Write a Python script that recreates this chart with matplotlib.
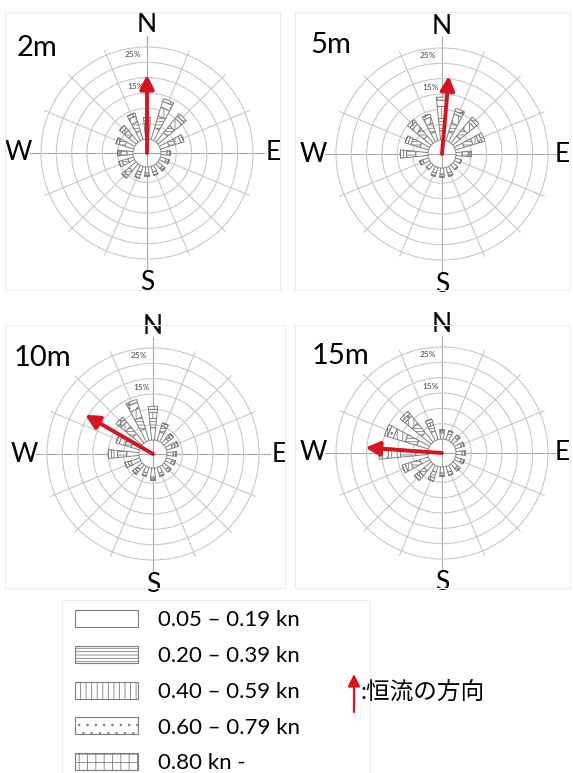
import numpy as np
import matplotlib.pyplot as plt
from matplotlib.patches import Patch, Rectangle

plt.rcParams['font.family'] = ['Lato', 'Noto Sans CJK JP', 'DejaVu Sans']
plt.rcParams['hatch.linewidth'] = 0.6

W, H = 573, 773

# 16 方位 (N から時計回り)
directions = ['N', 'NNE', 'NE', 'ENE', 'E', 'ESE', 'SE', 'SSE',
              'S', 'SSW', 'SW', 'WSW', 'W', 'WNW', 'NW', 'NNW']
speed_classes = ['0.05 – 0.19 kn', '0.20 – 0.39 kn', '0.40 – 0.59 kn',
                 '0.60 – 0.79 kn', '0.80 kn -']
depths = ['2m', '5m', '10m', '15m']

# 出現頻度 (%)  行 = 流速階級, 列 = 方位
freq_2m = [[3, 4, 4, 3, 2, 2, 2, 2, 2, 2, 3, 2, 2, 3, 3, 3],
           [2, 4, 3, 2, 1, 1, 1, 1, 1, 1, 2, 2, 2, 2, 2, 3],
           [1, 3, 3, 2, 0, 0, 0, 0, 0, 1, 1, 1, 1, 1, 1, 2],
           [1, 2, 1, 1, 0, 0, 0, 0, 0, 0, 0, 0, 0, 0, 1, 1],
           [0, 1, 1, 0, 0, 0, 0, 0, 0, 0, 0, 0, 0, 0, 0, 0]]
freq_5m = [[3, 3, 3, 3, 2, 2, 2, 2, 2, 2, 2, 2, 4, 3, 3, 3],
           [4, 3, 3, 3, 2, 0, 0, 1, 1, 1, 0, 1, 3, 3, 3, 3],
           [4, 3, 3, 2, 1, 0, 0, 0, 0, 0, 0, 0, 1, 1, 2, 2],
           [2, 1, 1, 1, 0, 0, 0, 0, 0, 0, 0, 0, 1, 1, 1, 1],
           [1, 1, 1, 1, 0, 0, 0, 0, 0, 0, 0, 0, 0, 0, 1, 0]]
freq_10m = [[4, 3, 2, 2, 2, 2, 2, 2, 3, 2, 2, 3, 4, 3, 4, 4],
            [3, 2, 1, 1, 1, 1, 1, 1, 1, 1, 1, 1, 3, 2, 3, 4],
            [2, 1, 1, 1, 0, 0, 0, 0, 0, 0, 1, 1, 2, 2, 2, 3],
            [1, 0, 0, 0, 0, 0, 0, 0, 0, 0, 0, 0, 1, 1, 1, 2],
            [1, 0, 0, 0, 0, 0, 0, 0, 0, 0, 0, 0, 0, 0, 1, 1]]
freq_15m = [[2, 2, 2, 2, 2, 2, 2, 2, 2, 2, 3, 3, 4, 4, 4, 3],
            [1, 1, 1, 1, 1, 1, 1, 1, 1, 2, 2, 3, 5, 4, 4, 2],
            [0, 0, 0, 0, 0, 0, 0, 0, 0, 1, 1, 2, 4, 4, 3, 1],
            [0, 0, 0, 0, 0, 0, 0, 0, 0, 0, 1, 1, 2, 2, 1, 1],
            [0, 0, 0, 0, 0, 0, 0, 0, 0, 0, 0, 0, 1, 1, 1, 0]]

# 恒流の方向 (度, N=0 時計回り) と長さ (%)
flow_dir = [0, 5, 300, 274]
flow_len = [21, 21, 21, 20.5]

# panel centres in pixels
centers = [(147, 153), (442, 154), (153, 454), (442, 453)]
label_pos = [(17, 48), (310, 45), (14, 358), (312, 356)]
east_dist = [126, 120, 126, 120]

R = 106          # outer ring radius in px
calm = 14        # calm circle radius in px
rmax = 30
rorig = -calm * rmax / (R - calm)
px = (R - calm) / rmax

hatches = ['', '-----', '|||', '..', '++']
edge = '#7e7e7e'
gridc = '#c8c8c8'
red = '#d8121e'

theta = np.radians(np.arange(16) * 22.5)

fig = plt.figure(figsize=(W / 100, H / 100), dpi=100)

# faint panel frames
for (x0, y0, x1, y1) in [(5, 12, 280, 290), (295, 12, 570, 290),
                         (5, 325, 285, 588), (295, 325, 570, 588),
                         (62, 600, 370, 773)]:
    fig.add_artist(Rectangle((x0 / W, 1 - y1 / H), (x1 - x0) / W, (y1 - y0) / H,
                             transform=fig.transFigure, fill=False,
                             edgecolor='#ededed', lw=0.8))

for i, freq in enumerate([freq_2m, freq_5m, freq_10m, freq_15m]):
    cx, cy = centers[i]
    ax = fig.add_axes([(cx - R) / W, (H - cy - R) / H, 2 * R / W, 2 * R / H],
                      projection='polar')
    ax.set_theta_zero_location('N')
    ax.set_theta_direction(-1)
    ax.set_rlim(0, rmax)
    ax.set_rorigin(rorig)
    ax.set_yticks([5, 10, 15, 20, 25])
    ax.set_yticklabels([])
    ax.set_xticks([])
    ax.yaxis.grid(True, color=gridc, lw=0.8)
    for sp in ax.spines.values():
        sp.set_color(gridc)
        sp.set_linewidth(0.8)
    ax.spines['inner'].set_color('#9a9a9a')

    # spokes
    for k, th in enumerate(theta):
        if k % 4 == 0:
            ax.plot([th, th], [rorig, 33.5], color='#a8a8a8', lw=0.8,
                    clip_on=False, zorder=1)
        else:
            ax.plot([th, th], [0, 31.5], color=gridc, lw=0.8,
                    clip_on=False, zorder=1)

    # stacked petals
    bottom = np.zeros(16)
    for c in range(5):
        vals = np.array(freq[c], dtype=float)
        ax.bar(theta, vals, width=0.2, bottom=bottom, facecolor='white',
               edgecolor=edge, hatch=hatches[c], lw=0.7, zorder=3)
        bottom += vals

    ax.text(np.radians(-10), 17.5, '15%', fontsize=6, color='#444',
            ha='center', va='center', zorder=5)
    ax.text(np.radians(-8), 28, '25%', fontsize=6, color='#444',
            ha='center', va='center', zorder=5)

    # cardinal letters
    for lab, ang, d in zip(['N', 'E', 'S', 'W'], [0, 90, 180, 270],
                           [128, east_dist[i], 130, 129]):
        ax.text(np.radians(ang), rorig + d / px, lab, fontsize=19,
                ha='center', va='center', clip_on=False)

    ax.annotate('', xy=(np.radians(flow_dir[i]), flow_len[i]),
                xytext=(0, rorig), xycoords='data', textcoords='data',
                arrowprops=dict(arrowstyle='-|>,head_length=0.7,head_width=0.35',
                                color=red, lw=2.8, shrinkA=0, shrinkB=0,
                                mutation_scale=12), zorder=6)

    lx, ly = label_pos[i]
    fig.text(lx / W, 1 - ly / H, depths[i], fontsize=21, va='center', ha='left')

# legend for speed classes
handles = [Patch(facecolor='white', edgecolor=edge, hatch=h, lw=0.8) for h in hatches]
fig.legend(handles, speed_classes, loc='upper left',
           bbox_to_anchor=(75 / W, 1 - 610 / H), frameon=False, fontsize=16,
           handlelength=2.85, handleheight=0.8, labelspacing=0.7,
           handletextpad=0.9, borderpad=0, borderaxespad=0)

# legend for the red arrow
fig.add_artist(plt.Annotation('', xy=(354 / W, 1 - 674 / H), xytext=(354 / W, 1 - 712 / H),
                              xycoords='figure fraction', textcoords='figure fraction',
                              arrowprops=dict(arrowstyle='-|>,head_length=0.6,head_width=0.3',
                                              color=red, lw=1.6, shrinkA=0, shrinkB=0,
                                              mutation_scale=12)))
fig.text(361 / W, 1 - 692 / H, ':恒流の方向', fontsize=17, va='center', ha='left')

fig.savefig('out.png', dpi=100)
